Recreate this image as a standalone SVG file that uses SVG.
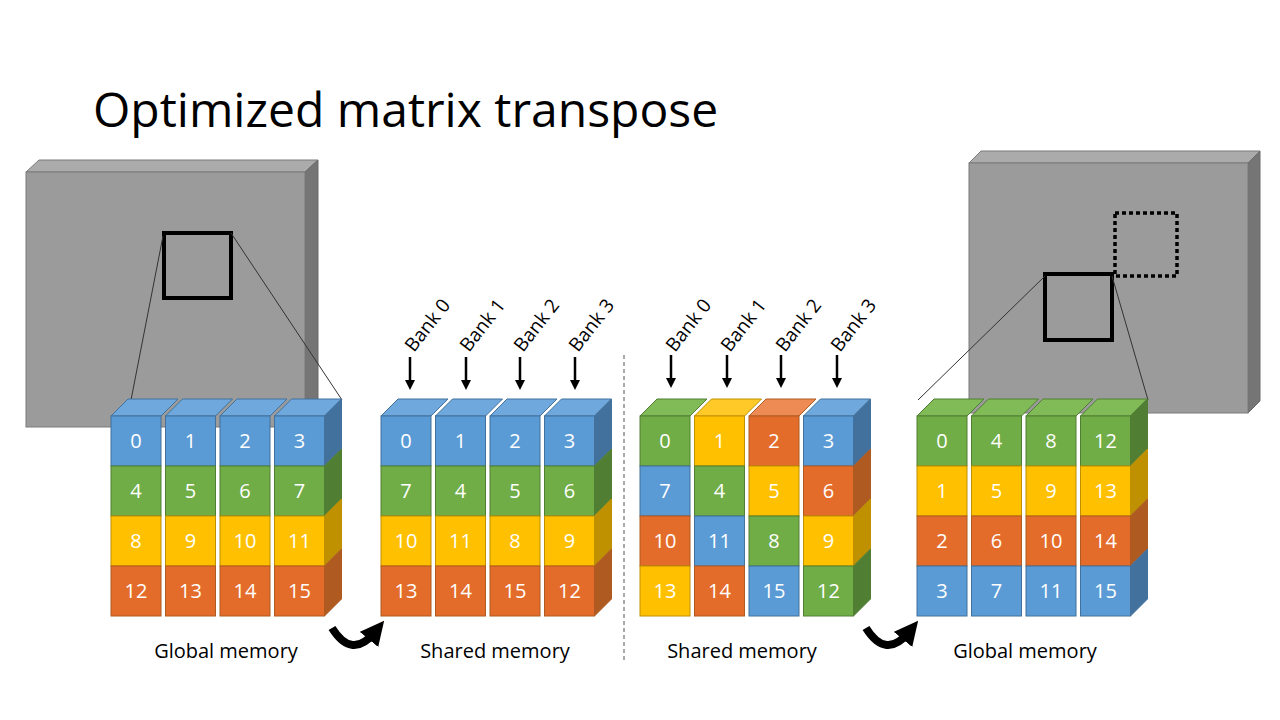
<svg xmlns="http://www.w3.org/2000/svg" width="1280" height="720" viewBox="0 0 1280 720">
<style>
text{font-family:"Open Sans","Liberation Sans",sans-serif}
.t{fill:#fff;font-size:20px;text-anchor:middle}
.l{fill:#000;font-size:20px;text-anchor:middle}
.bk{fill:#000;font-size:19px}
.b{fill:#5B9BD5;stroke:#41719C;stroke-width:1}
.bt{fill:#6FA8DC;stroke:#41719C;stroke-width:1}
.bs{fill:#41719C;stroke:#41719C;stroke-width:1}
.g{fill:#70AD47;stroke:#507E32;stroke-width:1}
.gt{fill:#80BB57;stroke:#507E32;stroke-width:1}
.gs{fill:#507E32;stroke:#507E32;stroke-width:1}
.y{fill:#FFC000;stroke:#BF9000;stroke-width:1}
.yt{fill:#FFCA28;stroke:#BF9000;stroke-width:1}
.ys{fill:#BF9000;stroke:#BF9000;stroke-width:1}
.o{fill:#E46C2B;stroke:#AE5A21;stroke-width:1}
.ot{fill:#EE8A54;stroke:#AE5A21;stroke-width:1}
.os{fill:#AE5A21;stroke:#AE5A21;stroke-width:1}
.gf{fill:#9B9B9B;stroke:#7a7a7a}
.gtp{fill:#ABABAB;stroke:#7a7a7a}
.gsd{fill:#757575;stroke:#6a6a6a}
.ar{stroke:#000;stroke-width:2.5;fill:none;marker-end:url(#ah)}
</style>
<defs>
<marker id="ah" markerWidth="4" markerHeight="4" refX="2" refY="2" orient="auto"><path d="M0,0L4,2L0,4z" fill="#000"/></marker>
<marker id="ah2" markerWidth="3" markerHeight="3" refX="1.2" refY="1.5" orient="auto"><path d="M0,0L3,1.5L0,3z" fill="#000"/></marker>
</defs>
<text x="93" y="127" font-size="48" fill="#000">Optimized matrix transpose</text>

<g id="src-matrix">
<polygon class="gtp" points="26,172 39,160 318,160 305,172"/>
<polygon class="gsd" points="305,172 318,160 318,415 305,427"/>
<rect class="gf" x="26" y="172" width="279" height="255"/>
<rect x="164" y="233" width="67" height="65" fill="none" stroke="#000" stroke-width="4"/>
<line x1="163" y1="236" x2="131" y2="400" stroke="#333" stroke-width="1"/>
<line x1="231" y1="233" x2="342" y2="400" stroke="#333" stroke-width="1"/>
</g>
<g id="dst-matrix">
<polygon class="gtp" points="969,163 981,151 1260,151 1248,163"/>
<polygon class="gsd" points="1248,163 1260,151 1260,401 1248,413"/>
<rect class="gf" x="969" y="163" width="279" height="250"/>
<rect x="1115" y="213" width="62" height="63" fill="none" stroke="#000" stroke-width="3.5" stroke-dasharray="4,3"/>
<rect x="1045" y="274" width="67" height="66" fill="none" stroke="#000" stroke-width="4"/>
<line x1="1045" y1="276" x2="918" y2="400" stroke="#333" stroke-width="1"/>
<line x1="1112" y1="276" x2="1148" y2="400" stroke="#333" stroke-width="1"/>
</g>

<!-- Grid 1 -->
<g id="grid-global-in">
<polygon class="bt" points="111,416 128,399 178,399 161,416"/>
<polygon class="bt" points="165.5,416 182.5,399 232.5,399 215.5,416"/>
<polygon class="bt" points="220,416 237,399 287,399 270,416"/>
<polygon class="bt" points="274.5,416 291.5,399 341.5,399 324.5,416"/>
<polygon class="bs" points="324.5,416 341.5,399 341.5,449 324.5,466"/>
<polygon class="gs" points="324.5,466 341.5,449 341.5,499 324.5,516"/>
<polygon class="ys" points="324.5,516 341.5,499 341.5,549 324.5,566"/>
<polygon class="os" points="324.5,566 341.5,549 341.5,599 324.5,616"/>
<rect class="b" x="111" y="416" width="50" height="50"/><rect class="b" x="165.5" y="416" width="50" height="50"/><rect class="b" x="220" y="416" width="50" height="50"/><rect class="b" x="274.5" y="416" width="50" height="50"/>
<rect class="g" x="111" y="466" width="50" height="50"/><rect class="g" x="165.5" y="466" width="50" height="50"/><rect class="g" x="220" y="466" width="50" height="50"/><rect class="g" x="274.5" y="466" width="50" height="50"/>
<rect class="y" x="111" y="516" width="50" height="50"/><rect class="y" x="165.5" y="516" width="50" height="50"/><rect class="y" x="220" y="516" width="50" height="50"/><rect class="y" x="274.5" y="516" width="50" height="50"/>
<rect class="o" x="111" y="566" width="50" height="50"/><rect class="o" x="165.5" y="566" width="50" height="50"/><rect class="o" x="220" y="566" width="50" height="50"/><rect class="o" x="274.5" y="566" width="50" height="50"/>
<text class="t" x="136" y="448">0</text><text class="t" x="190.5" y="448">1</text><text class="t" x="245" y="448">2</text><text class="t" x="299.5" y="448">3</text>
<text class="t" x="136" y="498">4</text><text class="t" x="190.5" y="498">5</text><text class="t" x="245" y="498">6</text><text class="t" x="299.5" y="498">7</text>
<text class="t" x="136" y="548">8</text><text class="t" x="190.5" y="548">9</text><text class="t" x="245" y="548">10</text><text class="t" x="299.5" y="548">11</text>
<text class="t" x="136" y="598">12</text><text class="t" x="190.5" y="598">13</text><text class="t" x="245" y="598">14</text><text class="t" x="299.5" y="598">15</text>
<text class="l" x="226" y="658">Global memory</text>
</g>

<!-- Grid 2 -->
<g id="grid-shared-1">
<polygon class="bt" points="381,416 398,399 448,399 431,416"/>
<polygon class="bt" points="435.5,416 452.5,399 502.5,399 485.5,416"/>
<polygon class="bt" points="490,416 507,399 557,399 540,416"/>
<polygon class="bt" points="544.5,416 561.5,399 611.5,399 594.5,416"/>
<polygon class="bs" points="594.5,416 611.5,399 611.5,449 594.5,466"/>
<polygon class="gs" points="594.5,466 611.5,449 611.5,499 594.5,516"/>
<polygon class="ys" points="594.5,516 611.5,499 611.5,549 594.5,566"/>
<polygon class="os" points="594.5,566 611.5,549 611.5,599 594.5,616"/>
<rect class="b" x="381" y="416" width="50" height="50"/><rect class="b" x="435.5" y="416" width="50" height="50"/><rect class="b" x="490" y="416" width="50" height="50"/><rect class="b" x="544.5" y="416" width="50" height="50"/>
<rect class="g" x="381" y="466" width="50" height="50"/><rect class="g" x="435.5" y="466" width="50" height="50"/><rect class="g" x="490" y="466" width="50" height="50"/><rect class="g" x="544.5" y="466" width="50" height="50"/>
<rect class="y" x="381" y="516" width="50" height="50"/><rect class="y" x="435.5" y="516" width="50" height="50"/><rect class="y" x="490" y="516" width="50" height="50"/><rect class="y" x="544.5" y="516" width="50" height="50"/>
<rect class="o" x="381" y="566" width="50" height="50"/><rect class="o" x="435.5" y="566" width="50" height="50"/><rect class="o" x="490" y="566" width="50" height="50"/><rect class="o" x="544.5" y="566" width="50" height="50"/>
<text class="t" x="406" y="448">0</text><text class="t" x="460.5" y="448">1</text><text class="t" x="515" y="448">2</text><text class="t" x="569.5" y="448">3</text>
<text class="t" x="406" y="498">7</text><text class="t" x="460.5" y="498">4</text><text class="t" x="515" y="498">5</text><text class="t" x="569.5" y="498">6</text>
<text class="t" x="406" y="548">10</text><text class="t" x="460.5" y="548">11</text><text class="t" x="515" y="548">8</text><text class="t" x="569.5" y="548">9</text>
<text class="t" x="406" y="598">13</text><text class="t" x="460.5" y="598">14</text><text class="t" x="515" y="598">15</text><text class="t" x="569.5" y="598">12</text>
<text class="l" x="495" y="658">Shared memory</text>
<text class="bk" transform="translate(414,353) rotate(-52)">Bank 0</text>
<text class="bk" transform="translate(469,353) rotate(-52)">Bank 1</text>
<text class="bk" transform="translate(523,353) rotate(-52)">Bank 2</text>
<text class="bk" transform="translate(578,353) rotate(-52)">Bank 3</text>
</g>

<!-- Grid 3 -->
<g id="grid-shared-2">
<polygon class="gt" points="640,416 657,399 707,399 690,416"/>
<polygon class="yt" points="694.5,416 711.5,399 761.5,399 744.5,416"/>
<polygon class="ot" points="749,416 766,399 816,399 799,416"/>
<polygon class="bt" points="803.5,416 820.5,399 870.5,399 853.5,416"/>
<polygon class="bs" points="853.5,416 870.5,399 870.5,449 853.5,466"/>
<polygon class="os" points="853.5,466 870.5,449 870.5,499 853.5,516"/>
<polygon class="ys" points="853.5,516 870.5,499 870.5,549 853.5,566"/>
<polygon class="gs" points="853.5,566 870.5,549 870.5,599 853.5,616"/>
<rect class="g" x="640" y="416" width="50" height="50"/><rect class="y" x="694.5" y="416" width="50" height="50"/><rect class="o" x="749" y="416" width="50" height="50"/><rect class="b" x="803.5" y="416" width="50" height="50"/>
<rect class="b" x="640" y="466" width="50" height="50"/><rect class="g" x="694.5" y="466" width="50" height="50"/><rect class="y" x="749" y="466" width="50" height="50"/><rect class="o" x="803.5" y="466" width="50" height="50"/>
<rect class="o" x="640" y="516" width="50" height="50"/><rect class="b" x="694.5" y="516" width="50" height="50"/><rect class="g" x="749" y="516" width="50" height="50"/><rect class="y" x="803.5" y="516" width="50" height="50"/>
<rect class="y" x="640" y="566" width="50" height="50"/><rect class="o" x="694.5" y="566" width="50" height="50"/><rect class="b" x="749" y="566" width="50" height="50"/><rect class="g" x="803.5" y="566" width="50" height="50"/>
<text class="t" x="665" y="448">0</text><text class="t" x="719.5" y="448">1</text><text class="t" x="774" y="448">2</text><text class="t" x="828.5" y="448">3</text>
<text class="t" x="665" y="498">7</text><text class="t" x="719.5" y="498">4</text><text class="t" x="774" y="498">5</text><text class="t" x="828.5" y="498">6</text>
<text class="t" x="665" y="548">10</text><text class="t" x="719.5" y="548">11</text><text class="t" x="774" y="548">8</text><text class="t" x="828.5" y="548">9</text>
<text class="t" x="665" y="598">13</text><text class="t" x="719.5" y="598">14</text><text class="t" x="774" y="598">15</text><text class="t" x="828.5" y="598">12</text>
<text class="l" x="742" y="658">Shared memory</text>
<text class="bk" transform="translate(675,353) rotate(-52)">Bank 0</text>
<text class="bk" transform="translate(730,353) rotate(-52)">Bank 1</text>
<text class="bk" transform="translate(785,353) rotate(-52)">Bank 2</text>
<text class="bk" transform="translate(840,353) rotate(-52)">Bank 3</text>
</g>

<!-- Grid 4 -->
<g id="grid-global-out">
<polygon class="gt" points="917,416 934,399 984,399 967,416"/>
<polygon class="gt" points="971.5,416 988.5,399 1038.5,399 1021.5,416"/>
<polygon class="gt" points="1026,416 1043,399 1093,399 1076,416"/>
<polygon class="gt" points="1080.5,416 1097.5,399 1147.5,399 1130.5,416"/>
<polygon class="gs" points="1130.5,416 1147.5,399 1147.5,449 1130.5,466"/>
<polygon class="ys" points="1130.5,466 1147.5,449 1147.5,499 1130.5,516"/>
<polygon class="os" points="1130.5,516 1147.5,499 1147.5,549 1130.5,566"/>
<polygon class="bs" points="1130.5,566 1147.5,549 1147.5,599 1130.5,616"/>
<rect class="g" x="917" y="416" width="50" height="50"/><rect class="g" x="971.5" y="416" width="50" height="50"/><rect class="g" x="1026" y="416" width="50" height="50"/><rect class="g" x="1080.5" y="416" width="50" height="50"/>
<rect class="y" x="917" y="466" width="50" height="50"/><rect class="y" x="971.5" y="466" width="50" height="50"/><rect class="y" x="1026" y="466" width="50" height="50"/><rect class="y" x="1080.5" y="466" width="50" height="50"/>
<rect class="o" x="917" y="516" width="50" height="50"/><rect class="o" x="971.5" y="516" width="50" height="50"/><rect class="o" x="1026" y="516" width="50" height="50"/><rect class="o" x="1080.5" y="516" width="50" height="50"/>
<rect class="b" x="917" y="566" width="50" height="50"/><rect class="b" x="971.5" y="566" width="50" height="50"/><rect class="b" x="1026" y="566" width="50" height="50"/><rect class="b" x="1080.5" y="566" width="50" height="50"/>
<text class="t" x="942" y="448">0</text><text class="t" x="996.5" y="448">4</text><text class="t" x="1051" y="448">8</text><text class="t" x="1105.5" y="448">12</text>
<text class="t" x="942" y="498">1</text><text class="t" x="996.5" y="498">5</text><text class="t" x="1051" y="498">9</text><text class="t" x="1105.5" y="498">13</text>
<text class="t" x="942" y="548">2</text><text class="t" x="996.5" y="548">6</text><text class="t" x="1051" y="548">10</text><text class="t" x="1105.5" y="548">14</text>
<text class="t" x="942" y="598">3</text><text class="t" x="996.5" y="598">7</text><text class="t" x="1051" y="598">11</text><text class="t" x="1105.5" y="598">15</text>
<text class="l" x="1025" y="658">Global memory</text>
</g>

<g id="connectors">
<line x1="624" y1="355" x2="624" y2="662" stroke="#555" stroke-width="1" stroke-dasharray="4,3"/>
<line class="ar" x1="410" y1="357" x2="410" y2="385"/>
<line class="ar" x1="466" y1="357" x2="466" y2="385"/>
<line class="ar" x1="520" y1="357" x2="520" y2="385"/>
<line class="ar" x1="575" y1="357" x2="575" y2="385"/>
<line class="ar" x1="671" y1="355" x2="671" y2="383"/>
<line class="ar" x1="727" y1="355" x2="727" y2="383"/>
<line class="ar" x1="781" y1="355" x2="781" y2="383"/>
<line class="ar" x1="837" y1="355" x2="837" y2="383"/>
<path d="M332,628 Q352,660 375,632" stroke="#000" stroke-width="8" fill="none" marker-end="url(#ah2)"/>
<path d="M866,628 Q886,660 909,632" stroke="#000" stroke-width="8" fill="none" marker-end="url(#ah2)"/>
</g>
</svg>
